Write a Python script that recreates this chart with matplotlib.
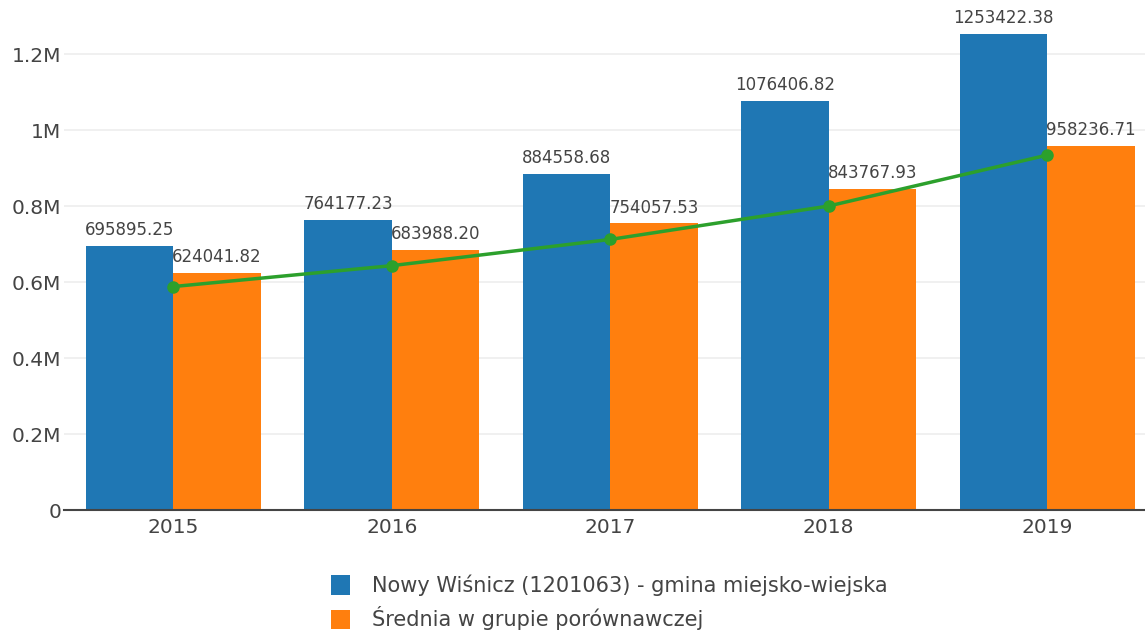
import matplotlib
matplotlib.use("Agg")
import matplotlib.pyplot as plt
from matplotlib.patches import Patch
import numpy as np

years = ["2015", "2016", "2017", "2018", "2019"]
gmina = [695895.25, 764177.23, 884558.68, 1076406.82, 1253422.38]
srednia = [624041.82, 683988.20, 754057.53, 843767.93, 958236.71]
trend = [588000, 643000, 712000, 800000, 934000]
ytick_vals = [0, 200000, 400000, 600000, 800000, 1000000, 1200000]
ytick_labels = ["0", "0.2M", "0.4M", "0.6M", "0.8M", "1M", "1.2M"]
legend_labels = ["Nowy Wiśnicz (1201063) - gmina miejsko-wiejska",
                 "Średnia w grupie porównawczej"]

BLUE = "#1f77b4"
ORANGE = "#ff7f0e"
GREEN = "#2ca02c"
TXT = "#444444"

W, H = 1145, 632
fig = plt.figure(figsize=(W / 100, H / 100), dpi=100)
plt.rcParams['font.family'] = ['DejaVu Sans']

ymax = 1310000
px_per = 380 / 1e6
ax_bottom_px = 510
ax_h_px = ymax * px_per
left_px = 64
width_px = 218.5 * 5
ax = fig.add_axes([left_px / W, 1 - ax_bottom_px / H, width_px / W, ax_h_px / H])

x = np.arange(len(years))
bw = 0.4
ax.bar(x - bw / 2, gmina, width=bw, color=BLUE, zorder=2)
ax.bar(x + bw / 2, srednia, width=bw, color=ORANGE, zorder=2)
ax.plot(x, trend, color=GREEN, lw=2.5, marker="o", ms=8, zorder=3)

for xi, v in zip(x, gmina):
    ax.annotate(f"{v:.2f}", (xi - bw / 2, v), xytext=(0, 5), textcoords="offset points",
                ha="center", va="bottom", fontsize=12, color=TXT, zorder=4)
for xi, v in zip(x, srednia):
    ax.annotate(f"{v:.2f}", (xi + bw / 2, v), xytext=(0, 5), textcoords="offset points",
                ha="center", va="bottom", fontsize=12, color=TXT, zorder=4)

ax.set_xlim(-0.5, len(years) - 0.5)
ax.set_ylim(0, ymax)
ax.set_xticks(x)
ax.set_xticklabels(years, fontsize=14.5, color=TXT)
ax.set_yticks(ytick_vals)
ax.set_yticklabels(ytick_labels, fontsize=14.5, color=TXT)
ax.tick_params(axis="both", length=0)
ax.tick_params(axis="y", pad=2)
ax.tick_params(axis="x", pad=6)
ax.grid(axis="y", color="#eeeeee", lw=1.2, zorder=0)
ax.set_axisbelow(True)
for s in ["top", "right", "left"]:
    ax.spines[s].set_visible(False)
ax.spines["bottom"].set_color(TXT)
ax.spines["bottom"].set_linewidth(1.5)

handles = [Patch(facecolor=BLUE), Patch(facecolor=ORANGE)]
fig.legend(handles, legend_labels, loc="upper left",
           bbox_to_anchor=(318 / W, 1 - 562 / H), frameon=False,
           fontsize=15, handlelength=0.95, handleheight=1.05,
           handletextpad=1.05, labelspacing=0.5, labelcolor=TXT,
           borderaxespad=0.2)

fig.savefig("out.png", dpi=100, facecolor="white")
